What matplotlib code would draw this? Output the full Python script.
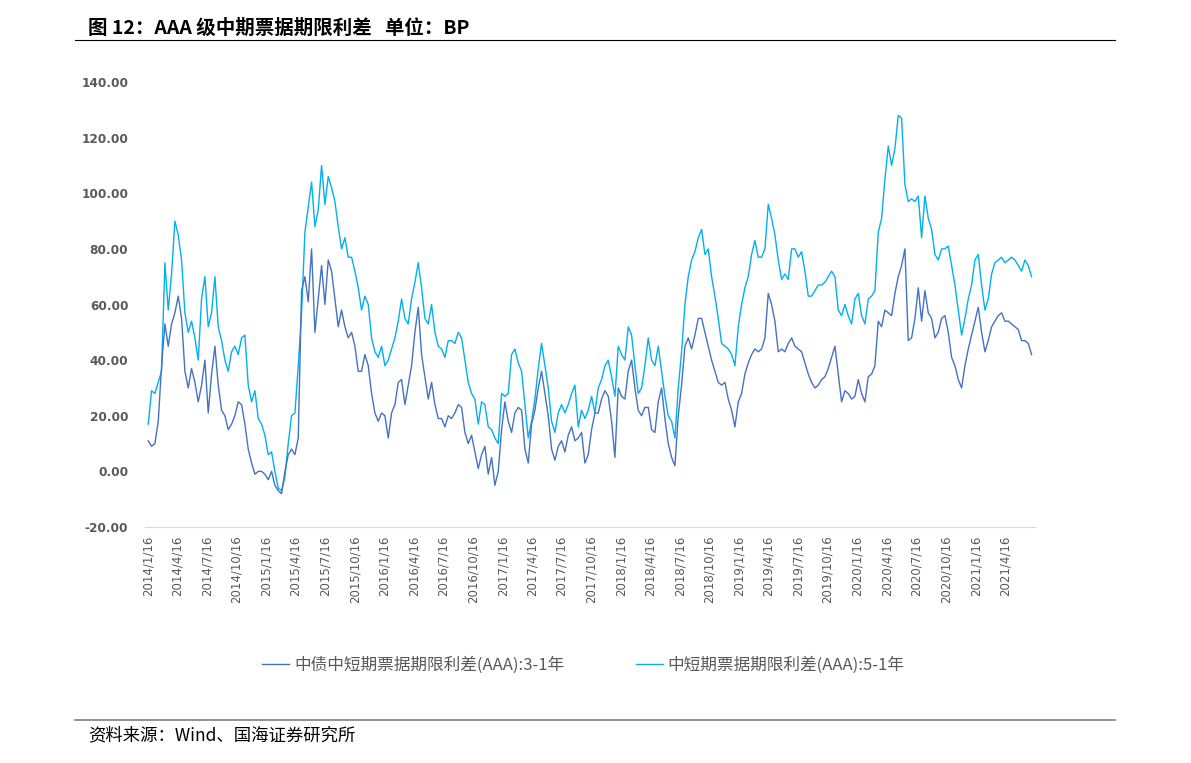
import pandas as pd
import numpy as np
import matplotlib
matplotlib.use("Agg")
import matplotlib.pyplot as plt
from matplotlib.lines import Line2D

plt.rcParams['font.family'] = ['Noto Sans CJK SC', 'DejaVu Sans']

# series, one value about every 10 days from 2014/1/16
start = "2014-01-16"
step = pd.Timedelta(hours=247.2)

# 中债中短期票据期限利差(AAA):3-1年 (dark blue)
spread_3_1 = [
    11, 9, 10, 18, 38, 53, 45, 53, 57, 63, 55, 36, 30, 37, 32, 25, 31, 40, 21, 35,
    45, 31, 22, 20, 15, 17, 20, 25, 24, 17, 8, 3, -1, 0, 0, -1, -3, 0, -5, -7,
    -8, 0, 6, 8, 6, 12,
    65, 70, 61, 80, 50, 62, 74, 60, 76, 72, 62, 52, 58, 52, 48, 50, 45, 36, 36, 42,
    38, 28, 21, 18, 21, 20, 12, 21, 24, 32, 33, 24, 31, 38, 50, 59, 42, 34, 26, 32,
    24, 19, 19, 16, 20,
    19, 21, 24, 23, 14, 10, 13, 7, 1, 6, 9, -1, 5, -5, 0, 15, 25, 18, 14, 21,
    23, 22, 8, 3, 17, 22, 30, 36, 28, 20, 8, 4, 9, 11, 7, 13, 16, 11, 12, 14,
    3, 6, 15, 21, 21,
    26, 29, 27, 18, 5, 30, 27, 26, 36, 40, 30, 22, 20, 23, 23, 15, 14, 25, 30, 19,
    10, 5, 2, 20, 31, 45, 48, 44, 49, 55, 55, 50, 45, 40, 36, 32, 31, 32, 26, 22,
    16, 25, 28, 35, 39,
    42, 44, 43, 44, 48, 64, 60, 54, 43, 44, 43, 46, 48, 45, 44, 43, 39, 35, 32, 30,
    31, 33, 34, 37, 41, 45, 35, 25, 29, 28, 26, 27, 33, 28, 25, 34, 35, 38, 54, 52,
    58, 57, 56, 64, 70,
    74, 80, 47, 48, 55, 66, 54, 65, 57, 55, 48, 50, 55, 56, 50, 41, 38, 33, 30, 38,
    44, 49, 54, 59, 50, 43, 47, 52, 54, 56, 57, 54, 54, 53, 52, 51, 47, 47, 46, 42,
]

# 中短期票据期限利差(AAA):5-1年 (light blue)
spread_5_1 = [
    17, 29, 28, 32, 36, 75, 58, 71, 90, 85, 76, 57, 50, 54, 48, 40, 62, 70, 52, 57,
    70, 52, 47, 40, 36, 43, 45, 42, 48, 49, 31, 25, 29, 19, 17, 13, 6, 7, 0, -6,
    -7, -2, 10, 20, 21, 38,
    57, 86, 95, 104, 88, 94, 110, 96, 106, 102, 97, 88, 80, 84, 77, 77, 72, 66, 58, 63,
    60, 48, 43, 41, 45, 38, 40, 44, 48, 54, 62, 55, 53, 62, 68, 75, 66, 55, 53, 60,
    50, 45, 44, 41, 47,
    47, 46, 50, 48, 40, 32, 28, 26, 17, 25, 24, 16, 15, 12, 10, 28, 27, 28, 42, 44,
    39, 36, 24, 12, 18, 26, 37, 46, 38, 30, 18, 14, 21, 24, 21, 24, 28, 31, 16, 22,
    19, 22, 27, 21, 30,
    33, 38, 40, 34, 27, 45, 42, 40, 52, 49, 38, 28, 30, 38, 48, 40, 38, 45, 36, 27,
    20, 18, 12, 30, 43, 60, 70, 76, 79, 84, 87, 78, 80, 70, 63, 55, 46, 45, 44, 42,
    38, 52, 60, 66, 70,
    78, 83, 77, 77, 80, 96, 91, 85, 76, 69, 71, 69, 80, 80, 77, 79, 72, 63, 63, 65,
    67, 67, 68, 70, 72, 70, 58, 56, 60, 56, 53, 62, 64, 56, 53, 62, 63, 65, 86, 91,
    105, 117, 110, 116, 128,
    127, 103, 97, 98, 97, 99, 84, 99, 91, 87, 78, 76, 80, 80, 81, 74, 67, 58, 49, 55,
    62, 67, 76, 78, 67, 58, 62, 71, 75, 76, 77, 75, 76, 77, 76, 74, 72, 76, 74, 70,
]

tick_years = list(range(2014, 2022))
tick_months = [1, 4, 7, 10]
y_ticks = [-20, 0, 20, 40, 60, 80, 100, 120, 140]

title = "图 12：AAA 级中期票据期限利差   单位：BP"
source = "资料来源：Wind、国海证券研究所"
label_3_1 = "中债中短期票据期限利差(AAA):3-1年"
label_5_1 = "中短期票据期限利差(AAA):5-1年"

dates = pd.date_range(start, periods=len(spread_3_1), freq=step)
dates_5 = pd.date_range(start, periods=len(spread_5_1), freq=step)

fig = plt.figure(figsize=(11.91, 7.63), dpi=100)
ax = fig.add_axes([145 / 1191, 1 - 527 / 763, 890 / 1191, 445 / 763])

dark = "#4472C4"
light = "#00B0F0"
ax.plot(dates_5, spread_5_1, color=light, lw=1.0)
ax.plot(dates, spread_3_1, color=dark, lw=1.0)

ax.set_ylim(-20, 140)
ax.set_xlim(pd.Timestamp("2014-01-06"), pd.Timestamp("2021-07-18"))

ticks = []
tick_labels = []
for y in tick_years:
    for m in tick_months:
        t = pd.Timestamp(y, m, 16)
        if t <= pd.Timestamp("2021-04-16"):
            ticks.append(t)
            tick_labels.append(f"{y}/{m}/16")
ax.set_xticks(ticks)
ax.set_xticklabels(tick_labels, rotation=90, fontsize=8.5, color="#595959",
                   family=["Liberation Sans Narrow", "DejaVu Sans"])
ax.set_yticks(y_ticks)
ax.set_yticklabels([f"{v:.2f}" for v in y_ticks], fontsize=8.7, color="#595959",
                   fontweight="bold", family=["DejaVu Sans"])
ax.tick_params(axis="both", length=0)
ax.tick_params(axis="x", pad=6)
ax.tick_params(axis="y", pad=12)

for s in ["top", "right", "left"]:
    ax.spines[s].set_visible(False)
ax.spines["bottom"].set_color("#D9D9D9")
ax.spines["bottom"].set_linewidth(0.8)

handles = [Line2D([], [], color=dark, lw=1.0), Line2D([], [], color=light, lw=1.0)]
fig.legend(handles, [label_3_1, label_5_1], loc="center", bbox_to_anchor=(0.49, 1 - 665 / 763),
           ncol=2, frameon=False, prop={"size": 12, "weight": "medium"}, labelcolor="#595959",
           handlelength=1.6, handletextpad=0.3, columnspacing=4.3)

fig.text(88 / 1191, 1 - 28 / 763, title, fontsize=14, fontweight="bold", va="center", ha="left")
fig.add_artist(Line2D([75 / 1191, 1115 / 1191], [1 - 40 / 763] * 2, color="black", lw=0.8))
fig.add_artist(Line2D([75 / 1191, 1115 / 1191], [1 - 720 / 763] * 2, color="#808080", lw=1.2))
fig.text(88 / 1191, 1 - 735 / 763, source, fontsize=12.5, va="center", ha="left")

fig.savefig("out.png", dpi=100)
